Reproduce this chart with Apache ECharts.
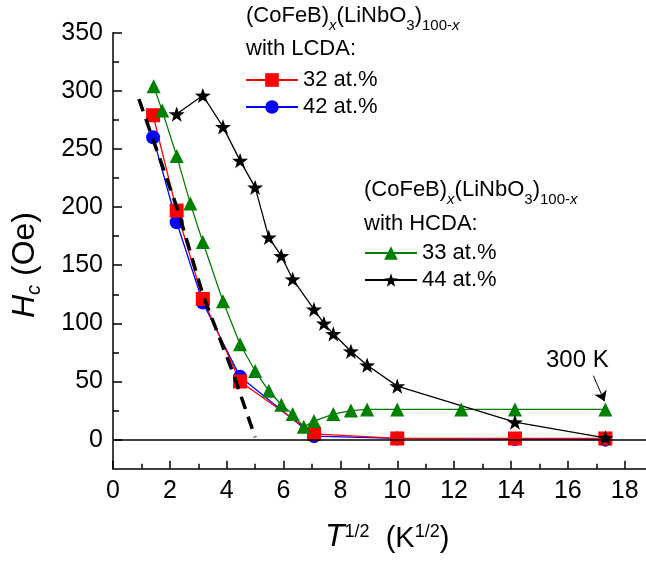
<!DOCTYPE html>
<html>
<head>
<meta charset="utf-8">
<script src="https://cdn.jsdelivr.net/npm/echarts@6/dist/echarts.min.js"></script>
<style>
    html, body { margin: 0; padding: 0; background: #fff; }
    #chart { width: 646px; height: 562px; }
</style>
</head>
<body>
<div id="chart"></div>
<script>
// T^1/2 values (K^1/2) and coercivity Hc (Oe)
var xLow = [1.41, 2.24, 3.16, 4.47, 7.07, 10, 14.14, 17.32]
var hc32 = [279, 197, 121, 50, 5, 1, 1, 1]
var hc42 = [260, 187, 118, 54, 3, 1, 0.5, 0]

var x33 = [1.43, 1.73, 2.24, 2.72, 3.16, 3.87, 4.47, 5.0, 5.48, 5.92, 6.32, 6.71, 7.07, 7.75, 8.37, 8.94, 10, 12.25, 14.14, 17.32]
var hc33 = [304, 283, 244, 203, 170, 119, 82, 59, 42, 30, 22, 11, 16, 22, 25, 26, 26, 26, 26, 26]

var x44 = [2.24, 3.16, 3.87, 4.47, 5.0, 5.48, 5.92, 6.32, 7.07, 7.42, 7.75, 8.37, 8.94, 10, 14.14, 17.32]
var hc44 = [280, 296, 269, 240, 217, 174, 158, 138, 112, 100, 91, 76, 64, 46, 15, 1.5]

// dashed linear fit
var xFit = [0.91, 2.3, 3.17, 4.23, 5.0]
var hcFit = [293, 196, 124, 57, 2]

var xMajor = [0, 2, 4, 6, 8, 10, 12, 14, 16, 18]
var xMinor = [1, 3, 5, 7, 9, 11, 13, 15, 17]
var yMajor = [0, 50, 100, 150, 200, 250, 300, 350]
var yMinor = [25, 75, 125, 175, 225, 275, 325]

var FONT = '"Liberation Sans", Arial, sans-serif'
var STAR = 'path://M0,-1 L0.235,-0.324 L0.951,-0.309 L0.38,0.124 L0.588,0.809 L0,0.4 L-0.588,0.809 L-0.38,0.124 L-0.951,-0.309 L-0.235,-0.324 Z'

function zip(xs, ys) {
    return xs.map(function (x, i) { return [x, ys[i]] })
}

function xAxisOf(ticks, len, labels, line) {
    return {
        type: 'value', min: 0, max: 18.75, position: 'bottom',
        axisLine: { show: line, onZero: false, lineStyle: { color: '#000', width: 1.5 } },
        axisTick: { show: true, inside: true, length: len, customValues: ticks, lineStyle: { color: '#000', width: 1.5 } },
        axisLabel: { show: labels, customValues: ticks, color: '#000', fontSize: 25, fontFamily: FONT, margin: 10 },
        splitLine: { show: false }
    }
}
function yAxisOf(ticks, len, labels, line) {
    return {
        type: 'value', min: -25, max: 350, position: 'left',
        axisLine: { show: line, onZero: false, lineStyle: { color: '#000', width: 1.5 } },
        axisTick: { show: true, inside: true, length: len, customValues: ticks, lineStyle: { color: '#000', width: 1.5 } },
        axisLabel: { show: labels, customValues: ticks, color: '#000', fontSize: 25, fontFamily: FONT, margin: 10 },
        splitLine: { show: false }
    }
}

var legendBase = {
    orient: 'vertical', padding: 0, itemWidth: 52, itemHeight: 17, itemGap: 5,
    selectedMode: false,
    textStyle: { fontSize: 22, lineHeight: 22, color: '#000', fontFamily: FONT }
}

var rich = {
    a: { fontSize: 22, lineHeight: 24, verticalAlign: 'top', fontFamily: FONT, color: '#000' },
    s: { fontSize: 15, lineHeight: 17, padding: [13, 0, 0, 0], verticalAlign: 'top', fontFamily: FONT, color: '#000' },
    si: { fontSize: 15, lineHeight: 17, padding: [13, 0, 0, 0], verticalAlign: 'top', fontStyle: 'italic', fontFamily: FONT, color: '#000' }
}
var headText = '{a|(CoFeB)}{si|x}{a|(LiNbO}{s|3}{a|)}{s|100-}{si|x}'

var option = {
    animation: false,
    grid: { left: 113, right: 0, top: 32.7, bottom: 93.3, outerBoundsMode: 'none', containLabel: false },
    xAxis: [xAxisOf(xMajor, 8, true, true), xAxisOf(xMinor, 5, false, false)],
    yAxis: [yAxisOf(yMajor, 9, true, true), yAxisOf(yMinor, 6, false, false)],
    legend: [
        Object.assign({}, legendBase, { data: ['32 at.%', '42 at.%'], left: 245, top: 69 }),
        Object.assign({}, legendBase, { data: ['33 at.%', '44 at.%'], left: 364, top: 242 })
    ],
    graphic: [
        { type: 'text', left: 246, top: 5, style: { text: headText, rich: rich } },
        { type: 'text', left: 246, top: 38, style: { text: 'with LCDA:', fontSize: 22, fontFamily: FONT, fill: '#000' } },
        { type: 'text', left: 364, top: 179, style: { text: headText, rich: rich } },
        { type: 'text', left: 364, top: 213, style: { text: 'with HCDA:', fontSize: 22, fontFamily: FONT, fill: '#000' } },
        { type: 'text', left: 546, top: 348, style: { text: '300 K', fontSize: 24, fontFamily: FONT, fill: '#000' } },
        {
            type: 'text', left: 325, top: 521,
            style: {
                text: '{t|T}{p|1/2}{n|  (K}{p|1/2}{n|)}',
                rich: {
                    t: { fontSize: 32, lineHeight: 34, verticalAlign: 'top', fontStyle: 'italic', fontFamily: FONT, fill: '#000' },
                    n: { fontSize: 29, lineHeight: 31, padding: [3, 0, 0, 0], verticalAlign: 'top', fontFamily: FONT, fill: '#000' },
                    p: { fontSize: 18, lineHeight: 18, padding: [2, 0, 0, 0], verticalAlign: 'top', fontFamily: FONT, fill: '#000' }
                }
            }
        },
        {
            type: 'text', x: 9, y: 318, rotation: Math.PI / 2,
            style: {
                text: '{h|H}{c|c}{n| (Oe)}',
                rich: {
                    h: { fontSize: 32, lineHeight: 34, verticalAlign: 'top', fontStyle: 'italic', fontFamily: FONT, fill: '#000' },
                    c: { fontSize: 20, lineHeight: 20, padding: [15, 0, 0, 0], verticalAlign: 'top', fontStyle: 'italic', fontFamily: FONT, fill: '#000' },
                    n: { fontSize: 32, lineHeight: 34, verticalAlign: 'top', fontFamily: FONT, fill: '#000' }
                }
            }
        }
    ],
    series: [
        {
            name: '42 at.%', type: 'line', data: zip(xLow, hc42),
            symbol: 'circle', symbolSize: 14,
            itemStyle: { color: '#0000ff' }, lineStyle: { color: '#0000ff', width: 1.3 }
        },
        {
            name: '32 at.%', type: 'line', data: zip(xLow, hc32),
            symbol: 'rect', symbolSize: 14,
            itemStyle: { color: '#ff0000' }, lineStyle: { color: '#ff0000', width: 1.3 },
            markLine: {
                silent: true, symbol: 'none', label: { show: false },
                lineStyle: { color: '#000', type: 'solid', width: 1.5 },
                data: [{ yAxis: 0 }]
            }
        },
        {
            name: '33 at.%', type: 'line', data: zip(x33, hc33),
            symbol: 'triangle', symbolSize: 14,
            itemStyle: { color: '#008000' }, lineStyle: { color: '#008000', width: 1.3 }
        },
        {
            name: '44 at.%', type: 'line', data: zip(x44, hc44),
            symbol: STAR, symbolSize: 16, symbolKeepAspect: true,
            itemStyle: { color: '#000' }, lineStyle: { color: '#000', width: 1.3 },
            markLine: {
                silent: true, symbol: ['none', 'arrow'], symbolSize: 10, label: { show: false },
                lineStyle: { color: '#000', type: 'solid', width: 1 },
                data: [[{ coord: [16.9, 55] }, { coord: [17.29, 33] }]]
            }
        },
        {
            name: 'fit', type: 'line', data: zip(xFit, hcFit),
            symbol: 'none', z: 5,
            lineStyle: { color: '#000', width: 3.5, type: [13, 8] }
        }
    ]
}

var chart = echarts.init(document.getElementById('chart'), null, { renderer: 'canvas' })
chart.setOption(option)
window.addEventListener('resize', function () {
    chart.resize()
})
</script>
</body>
</html>
